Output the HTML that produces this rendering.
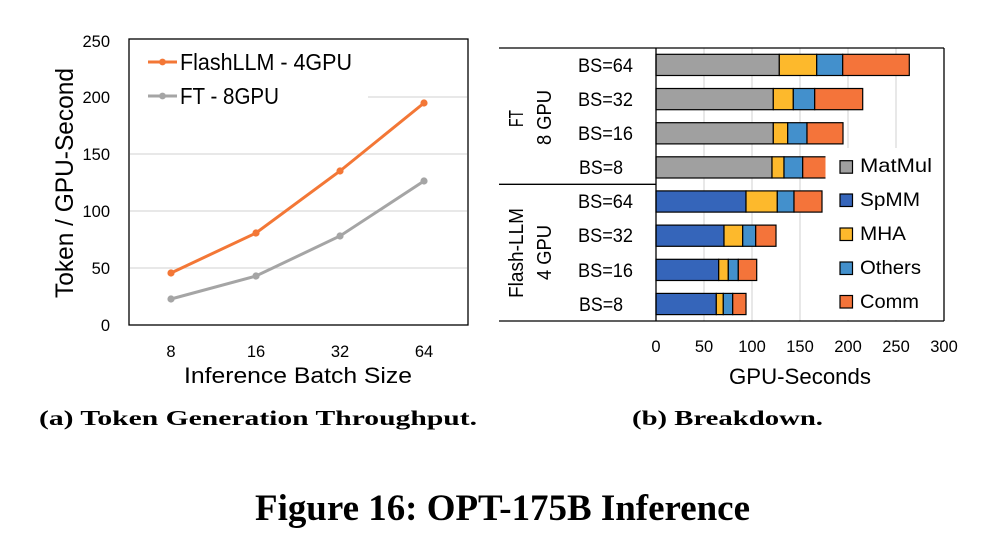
<!DOCTYPE html>
<html><head><meta charset="utf-8"><style>
html,body{margin:0;padding:0;background:#fff;}
svg{display:block;}
text{font-family:"Liberation Sans",sans-serif;fill:#000;}
.cap{font-family:"Liberation Serif",serif;font-weight:bold;}
</style></head><body>
<svg width="998" height="538" viewBox="0 0 998 538" xmlns="http://www.w3.org/2000/svg">
<rect width="998" height="538" fill="#fff"/>
<!-- LEFT CHART -->
<g stroke="#d9d9d9" stroke-width="1.2">
<line x1="130" y1="268" x2="467" y2="268"/>
<line x1="130" y1="211" x2="467" y2="211"/>
<line x1="130" y1="154" x2="467" y2="154"/>
<line x1="368" y1="97" x2="467" y2="97"/>
</g>
<rect x="129" y="39" width="339" height="286" fill="none" stroke="#000" stroke-width="1.3"/>
<g font-size="16.5" text-anchor="end">
<text x="110" y="47">250</text>
<text x="110" y="103">200</text>
<text x="110" y="160">150</text>
<text x="110" y="217">100</text>
<text x="110" y="274">50</text>
<text x="110" y="331">0</text>
</g>
<g font-size="16.5" text-anchor="middle">
<text x="171" y="357">8</text>
<text x="256" y="357">16</text>
<text x="340" y="357">32</text>
<text x="424" y="357">64</text>
</g>
<text x="298" y="383" font-size="22.5" text-anchor="middle" textLength="228" lengthAdjust="spacingAndGlyphs">Inference Batch Size</text>
<text transform="translate(73,183) rotate(-90)" font-size="25" text-anchor="middle" textLength="230" lengthAdjust="spacingAndGlyphs">Token / GPU-Second</text>
<polyline points="171,299 256,276 340,236 424,181" fill="none" stroke="#a5a5a5" stroke-width="3"/>
<g fill="#a5a5a5"><circle cx="171" cy="299" r="3.6"/><circle cx="256" cy="276" r="3.6"/><circle cx="340" cy="236" r="3.6"/><circle cx="424" cy="181" r="3.6"/></g>
<polyline points="171,273 256,233 340,171 424,103" fill="none" stroke="#f37736" stroke-width="3"/>
<g fill="#f37736"><circle cx="171" cy="273" r="3.6"/><circle cx="256" cy="233" r="3.6"/><circle cx="340" cy="171" r="3.6"/><circle cx="424" cy="103" r="3.6"/></g>
<line x1="148" y1="62" x2="177" y2="62" stroke="#f37736" stroke-width="3"/>
<circle cx="162.5" cy="62" r="3.4" fill="#f37736"/>
<text x="180" y="70" font-size="23" textLength="172" lengthAdjust="spacingAndGlyphs">FlashLLM - 4GPU</text>
<line x1="148" y1="96" x2="177" y2="96" stroke="#a5a5a5" stroke-width="3"/>
<circle cx="162.5" cy="96" r="3.4" fill="#a5a5a5"/>
<text x="180" y="104" font-size="23" textLength="99" lengthAdjust="spacingAndGlyphs">FT - 8GPU</text>

<!-- RIGHT CHART -->
<g stroke="#d9d9d9" stroke-width="1.2">
<line x1="704" y1="48" x2="704" y2="321"/>
<line x1="752" y1="48" x2="752" y2="321"/>
<line x1="800" y1="48" x2="800" y2="321"/>
<line x1="848" y1="48" x2="848" y2="321"/>
<line x1="896" y1="48" x2="896" y2="321"/>
</g>
<g stroke="#000" stroke-width="1.2">
<!-- FT 64 -->
<rect x="656" y="54.3" width="123.3" height="21.2" fill="#a0a0a0"/>
<rect x="779.3" y="54.3" width="37.4" height="21.2" fill="#fdb92c"/>
<rect x="816.7" y="54.3" width="26" height="21.2" fill="#4390cc"/>
<rect x="842.7" y="54.3" width="66.6" height="21.2" fill="#f4743a"/>
<!-- FT 32 -->
<rect x="656" y="88.5" width="117.3" height="21.2" fill="#a0a0a0"/>
<rect x="773.3" y="88.5" width="20" height="21.2" fill="#fdb92c"/>
<rect x="793.3" y="88.5" width="21.4" height="21.2" fill="#4390cc"/>
<rect x="814.7" y="88.5" width="48" height="21.2" fill="#f4743a"/>
<!-- FT 16 -->
<rect x="656" y="122.7" width="117.3" height="21.2" fill="#a0a0a0"/>
<rect x="773.3" y="122.7" width="14.4" height="21.2" fill="#fdb92c"/>
<rect x="787.7" y="122.7" width="19.3" height="21.2" fill="#4390cc"/>
<rect x="807" y="122.7" width="36" height="21.2" fill="#f4743a"/>
<!-- FT 8 -->
<rect x="656" y="156.8" width="116" height="21.2" fill="#a0a0a0"/>
<rect x="772" y="156.8" width="12" height="21.2" fill="#fdb92c"/>
<rect x="784" y="156.8" width="18.7" height="21.2" fill="#4390cc"/>
<rect x="802.7" y="156.8" width="26" height="21.2" fill="#f4743a"/>
<!-- FL 64 -->
<rect x="656" y="190.9" width="90" height="21.2" fill="#3565ba"/>
<rect x="746" y="190.9" width="31.3" height="21.2" fill="#fdb92c"/>
<rect x="777.3" y="190.9" width="16.7" height="21.2" fill="#4390cc"/>
<rect x="794" y="190.9" width="28" height="21.2" fill="#f4743a"/>
<!-- FL 32 -->
<rect x="656" y="225.1" width="68" height="21.2" fill="#3565ba"/>
<rect x="724" y="225.1" width="18.7" height="21.2" fill="#fdb92c"/>
<rect x="742.7" y="225.1" width="13" height="21.2" fill="#4390cc"/>
<rect x="755.7" y="225.1" width="20.3" height="21.2" fill="#f4743a"/>
<!-- FL 16 -->
<rect x="656" y="259.3" width="62.7" height="21.2" fill="#3565ba"/>
<rect x="718.7" y="259.3" width="9.6" height="21.2" fill="#fdb92c"/>
<rect x="728.3" y="259.3" width="10" height="21.2" fill="#4390cc"/>
<rect x="738.3" y="259.3" width="18.4" height="21.2" fill="#f4743a"/>
<!-- FL 8 -->
<rect x="656" y="293.4" width="60.3" height="21.2" fill="#3565ba"/>
<rect x="716.3" y="293.4" width="7" height="21.2" fill="#fdb92c"/>
<rect x="723.3" y="293.4" width="9.4" height="21.2" fill="#4390cc"/>
<rect x="732.7" y="293.4" width="13.3" height="21.2" fill="#f4743a"/>
</g>
<!-- legend bg -->
<rect x="825.5" y="148" width="118" height="172" fill="#fff"/>
<g stroke="#000" stroke-width="1.2">
<rect x="840" y="160.7" width="12.5" height="12.5" fill="#a0a0a0"/>
<rect x="840" y="194" width="12.5" height="12.5" fill="#3565ba"/>
<rect x="840" y="228" width="12.5" height="12.5" fill="#fdb92c"/>
<rect x="840" y="262" width="12.5" height="12.5" fill="#4390cc"/>
<rect x="840" y="295.5" width="12.5" height="12.5" fill="#f4743a"/>
</g>
<g font-size="19.5">
<text x="860" y="172" textLength="72" lengthAdjust="spacingAndGlyphs">MatMul</text>
<text x="860" y="206" textLength="60" lengthAdjust="spacingAndGlyphs">SpMM</text>
<text x="860" y="240" textLength="46" lengthAdjust="spacingAndGlyphs">MHA</text>
<text x="860" y="274" textLength="61" lengthAdjust="spacingAndGlyphs">Others</text>
<text x="860" y="308" textLength="59" lengthAdjust="spacingAndGlyphs">Comm</text>
</g>
<!-- frame lines -->
<g stroke="#000" stroke-width="1.3">
<line x1="499" y1="48" x2="944" y2="48"/>
<line x1="499" y1="321" x2="944" y2="321"/>
<line x1="499" y1="184.3" x2="656" y2="184.3"/>
<line x1="656" y1="48" x2="656" y2="321"/>
<line x1="944" y1="48" x2="944" y2="321"/>
</g>
<g font-size="19">
<text x="578" y="72" textLength="55" lengthAdjust="spacingAndGlyphs">BS=64</text>
<text x="578" y="106" textLength="55" lengthAdjust="spacingAndGlyphs">BS=32</text>
<text x="578" y="140" textLength="55" lengthAdjust="spacingAndGlyphs">BS=16</text>
<text x="579" y="174" textLength="44" lengthAdjust="spacingAndGlyphs">BS=8</text>
<text x="578" y="208" textLength="55" lengthAdjust="spacingAndGlyphs">BS=64</text>
<text x="578" y="242" textLength="55" lengthAdjust="spacingAndGlyphs">BS=32</text>
<text x="578" y="277" textLength="55" lengthAdjust="spacingAndGlyphs">BS=16</text>
<text x="579" y="311" textLength="44" lengthAdjust="spacingAndGlyphs">BS=8</text>
</g>
<g font-size="20" text-anchor="middle">
<text transform="translate(523,118.5) rotate(-90)" textLength="17" lengthAdjust="spacingAndGlyphs">FT</text>
<text transform="translate(551,117.5) rotate(-90)" textLength="55" lengthAdjust="spacingAndGlyphs">8 GPU</text>
<text transform="translate(523,253) rotate(-90)" textLength="90" lengthAdjust="spacingAndGlyphs">Flash-LLM</text>
<text transform="translate(551,252.5) rotate(-90)" textLength="55" lengthAdjust="spacingAndGlyphs">4 GPU</text>
</g>
<g font-size="16.5" text-anchor="middle">
<text x="656" y="352">0</text>
<text x="704" y="352">50</text>
<text x="752" y="352">100</text>
<text x="800" y="352">150</text>
<text x="848" y="352">200</text>
<text x="896" y="352">250</text>
<text x="944" y="352">300</text>
</g>
<text x="800" y="384" font-size="22.5" text-anchor="middle" textLength="142" lengthAdjust="spacingAndGlyphs">GPU-Seconds</text>

<!-- CAPTIONS -->
<text class="cap" x="39" y="425" font-size="21.5" textLength="438" lengthAdjust="spacingAndGlyphs">(a) Token Generation Throughput.</text>
<text class="cap" x="632" y="425" font-size="21.5" textLength="191" lengthAdjust="spacingAndGlyphs">(b) Breakdown.</text>
<text class="cap" x="255" y="520" font-size="37" textLength="495" lengthAdjust="spacingAndGlyphs">Figure 16: OPT-175B Inference</text>
</svg>
</body></html>
